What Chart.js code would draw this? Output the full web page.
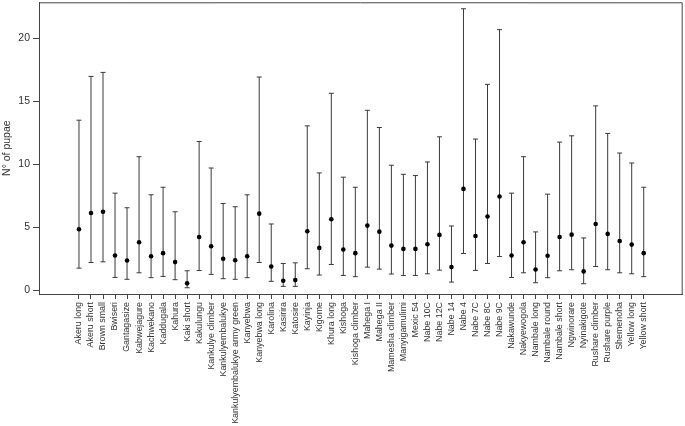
<!DOCTYPE html>
<html>
<head>
<meta charset="utf-8">
<script src="https://cdn.jsdelivr.net/npm/chart.js@4/dist/chart.umd.min.js"></script>
<style>
  html, body { margin: 0; padding: 0; background: #fff; }
  #wrap { width: 685px; height: 426px; position: relative; }
</style>
</head>
<body>
<div id="wrap"><canvas id="c" width="685" height="426"></canvas></div>
<script>
const categories = [
  "Akeru long", "Akeru short", "Brown small", "Bwiseri", "Gantagasize", "Kabwejagure",
  "Kachwekano", "Kaddugala", "Kahura", "Kaki short", "Kakulungu", "Kankulye climber",
  "Kankulyembalukye", "Kankulyembalukye army green", "Kanyebwa", "Kanyebwa long",
  "Karolina", "Kasirira", "Katosire", "Kayinja", "Kigome", "Khura long", "Kishoga",
  "Kishoga climber", "Mahega I", "Mahega II", "Mamesha climber", "Manyigamulimi",
  "Mexic 54", "Nabe 10C", "Nabe 12C", "Nabe 14", "Nabe 4", "Nabe 7C", "Nabe 8C",
  "Nabe 9C", "Nakawunde", "Nakyewogola", "Nambale long", "Nambale round",
  "Nambale short", "Ngwinorare", "Nyinakigote", "Rushare climber", "Rushare purple",
  "Shemenoha", "Yellow long", "Yellow short"
];
const means = [
  4.83, 6.12, 6.22, 2.74, 2.35, 3.80, 2.69, 2.93, 2.22, 0.53, 4.22, 3.48,
  2.48, 2.37, 2.69, 6.07, 1.87, 0.74, 0.79, 4.67, 3.35, 5.62, 3.22, 2.93,
  5.12, 4.64, 3.53, 3.27, 3.27, 3.64, 4.38, 1.82, 8.04, 4.30, 5.85, 7.44,
  2.74, 3.80, 1.63, 2.72, 4.22, 4.40, 1.48, 5.25, 4.46, 3.90, 3.61, 2.93
];
const lower = [
  1.74, 2.19, 2.24, 1.00, 0.85, 1.37, 0.98, 1.08, 0.82, 0.18, 1.55, 1.24,
  0.90, 0.85, 0.98, 2.19, 0.69, 0.29, 0.29, 1.69, 1.19, 2.03, 1.16, 1.06,
  1.82, 1.66, 1.27, 1.16, 1.16, 1.29, 1.58, 0.63, 2.90, 1.56, 2.11, 2.66,
  1.00, 1.37, 0.58, 0.98, 1.53, 1.61, 0.50, 1.87, 1.61, 1.37, 1.29, 1.06
];
const upper = [
  13.50, 16.98, 17.30, 7.70, 6.54, 10.60, 7.57, 8.17, 6.22, 1.53, 11.81, 9.70,
  6.88, 6.62, 7.57, 16.93, 5.25, 2.11, 2.16, 13.05, 9.31, 15.64, 8.97, 8.17,
  14.29, 12.92, 9.92, 9.20, 9.10, 10.18, 12.18, 5.09, 22.36, 12.00, 16.35, 20.70,
  7.70, 10.60, 4.62, 7.62, 11.76, 12.26, 4.14, 14.64, 12.45, 10.89, 10.10, 8.17
];
const yTicks = [0, 5, 10, 15, 20];

const axisColor = '#444';
const textColor = '#333';
const fontFamily = '"Liberation Sans", Arial, Helvetica, sans-serif';

const errorBars = {
  id: 'errorBars',
  beforeDatasetsDraw(chart) {
    const { ctx, scales: { x, y } } = chart;
    ctx.save();
    ctx.strokeStyle = '#3a3a3a';
    ctx.lineWidth = 1;
    for (let i = 0; i < categories.length; i++) {
      const px = x.getPixelForValue(i);
      const pl = y.getPixelForValue(lower[i]);
      const pu = y.getPixelForValue(upper[i]);
      ctx.beginPath();
      ctx.moveTo(px, pl);
      ctx.lineTo(px, pu);
      ctx.moveTo(px - 2.5, pl);
      ctx.lineTo(px + 2.5, pl);
      ctx.moveTo(px - 2.5, pu);
      ctx.lineTo(px + 2.5, pu);
      ctx.stroke();
    }
    ctx.restore();
  }
};

const frame = {
  id: 'frame',
  afterDraw(chart) {
    const { ctx, chartArea: a } = chart;
    ctx.save();
    ctx.strokeStyle = axisColor;
    ctx.lineWidth = 1;
    ctx.beginPath();
    ctx.moveTo(a.left, a.top + 0.5);
    ctx.lineTo(a.right - 0.5, a.top + 0.5);
    ctx.lineTo(a.right - 0.5, a.bottom);
    ctx.stroke();
    ctx.restore();
  }
};

new Chart(document.getElementById('c'), {
  type: 'scatter',
  data: {
    datasets: [{
      data: means.map((m, i) => ({ x: i, y: m })),
      backgroundColor: '#000',
      borderColor: '#000',
      pointRadius: 2.3,
      pointHoverRadius: 2.3,
      borderWidth: 0
    }]
  },
  options: {
    responsive: false,
    animation: false,
    events: [],
    layout: { padding: { top: 0, right: 2, left: 0, bottom: 0 } },
    plugins: { legend: { display: false }, tooltip: { enabled: false } },
    scales: {
      x: {
        type: 'linear',
        min: -3.327,
        max: 50.244,
        afterBuildTicks(scale) { scale.ticks = categories.map((_, i) => ({ value: i })); },
        afterFit(scale) {
          scale.height = 132;
          scale.paddingLeft = 0; scale.paddingRight = 0;
          scale.paddingTop = 0; scale.paddingBottom = 0;
        },
        ticks: {
          autoSkip: false,
          minRotation: 90,
          maxRotation: 90,
          padding: 3,
          color: textColor,
          font: { family: fontFamily, size: 8.9 },
          callback: (v) => categories[v] ?? ''
        },
        grid: { display: true, drawOnChartArea: false, drawTicks: true, tickLength: 5, color: axisColor },
        border: { display: true, color: axisColor, width: 1 }
      },
      y: {
        type: 'linear',
        min: -0.3166,
        max: 22.873,
        afterBuildTicks(scale) { scale.ticks = yTicks.map(v => ({ value: v })); },
        afterFit(scale) {
          scale.width = 39;
          scale.paddingTop = 0; scale.paddingBottom = 0;
          scale.paddingLeft = 0; scale.paddingRight = 0;
        },
        ticks: {
          padding: 3,
          color: textColor,
          font: { family: fontFamily, size: 10.5 },
          callback: (v) => String(v)
        },
        grid: { display: true, drawOnChartArea: false, drawTicks: true, tickLength: 6, color: axisColor },
        border: { display: true, color: axisColor, width: 1 },
        title: {
          display: true,
          text: 'N° of pupae',
          color: textColor,
          font: { family: fontFamily, size: 10.5 },
          padding: { top: 1, bottom: 0 }
        }
      }
    }
  },
  plugins: [errorBars, frame]
});
</script>
</body>
</html>
